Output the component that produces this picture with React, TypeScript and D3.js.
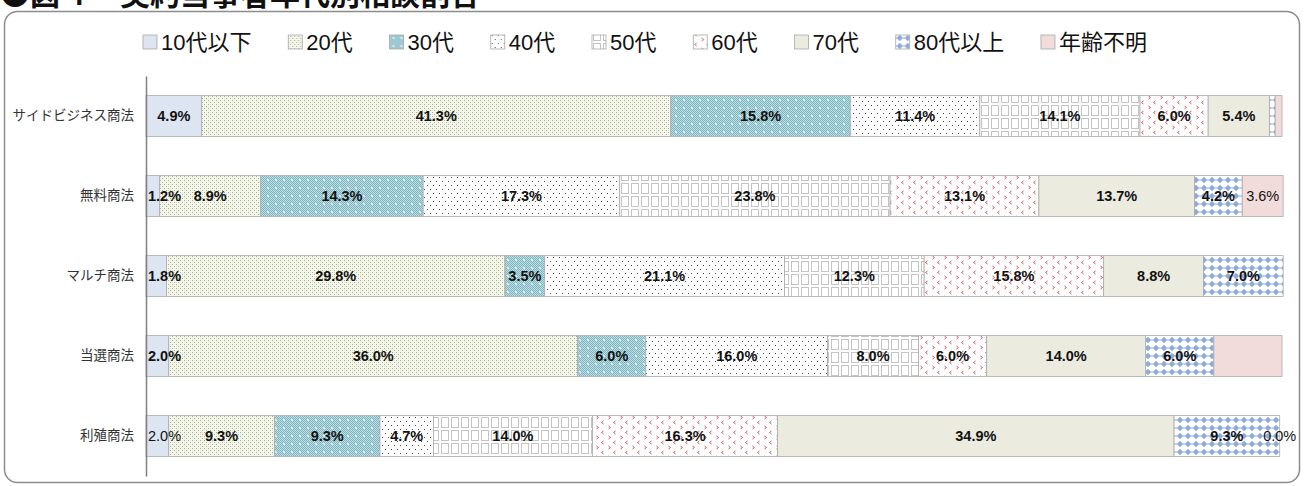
import React, { useEffect, useRef } from "react";
import * as d3 from "d3";

const categories = ["サイドビジネス商法", "無料商法", "マルチ商法", "当選商法", "利殖商法"];
const seriesNames = ["10代以下", "20代", "30代", "40代", "50代", "60代", "70代", "80代以上", "年齢不明"];

const age10 = [4.9, 1.2, 1.8, 2.0, 2.0];
const age20 = [41.3, 8.9, 29.8, 36.0, 9.3];
const age30 = [15.8, 14.3, 3.5, 6.0, 9.3];
const age40 = [11.4, 17.3, 21.1, 16.0, 4.7];
const age50 = [14.1, 23.8, 12.3, 8.0, 14.0];
const age60 = [6.0, 13.1, 15.8, 6.0, 16.3];
const age70 = [5.4, 13.7, 8.8, 14.0, 34.9];
const age80 = [0.5, 4.2, 7.0, 6.0, 9.3];
const ageUnknown = [0.6, 3.6, 0.0, 6.0, 0.0];
const seriesValues = [age10, age20, age30, age40, age50, age60, age70, age80, ageUnknown];

// [row, series] pairs
const hiddenLabels = [[0, 7], [0, 8], [2, 8], [3, 8]];
const plainLabels = [[1, 8], [4, 0], [4, 8]];

const titleText = "●図４　契約当事者年代別相談割合";

const W = 1304;
const H = 486;
const NUM_FONT = "'Liberation Sans', Arial, sans-serif";
const CJK_FONT = "'Liberation Sans', 'Noto Sans CJK JP', sans-serif";

function has(list: number[][], i: number, j: number) {
  return list.some((p) => p[0] === i && p[1] === j);
}

export default function App() {
  const ref = useRef<SVGSVGElement>(null);

  useEffect(() => {
    const svg = d3.select(ref.current);
    svg.selectAll("*").remove();
    const defs = svg.append("defs");

    const pat = (id: string, w: number, h: number, bg: string, draw: (g: any) => void) => {
      const p = defs
        .append("pattern")
        .attr("id", id)
        .attr("patternUnits", "userSpaceOnUse")
        .attr("width", w)
        .attr("height", h);
      p.append("rect").attr("width", w).attr("height", h).attr("fill", bg);
      draw(p);
    };
    const dot = (g: any, x: number, y: number, c: string, s = 1) =>
      g.append("rect").attr("x", x).attr("y", y).attr("width", s).attr("height", s).attr("fill", c);

    // 10代以下
    pat("p0", 4, 4, "#dce5f1", () => {});
    // 20代
    pat("p1", 4, 4, "#f7f8ef", (g) => {
      dot(g, 0, 0, "#a3b285");
      dot(g, 2, 2, "#a3b285");
      dot(g, 2, 0, "#e3e8d2");
      dot(g, 0, 2, "#e3e8d2");
    });
    // 30代
    pat("p2", 8, 8, "#c0dfe5", (g) => {
      for (let x = 0; x < 8; x++)
        for (let y = 0; y < 8; y++) if ((x + y) % 2 === 0) dot(g, x, y, "#7db3bf");
      dot(g, 3, 3, "#d2ebef", 2);
    });
    // 40代
    pat("p3", 6, 8, "#ffffff", (g) => {
      dot(g, 1, 1, "#555");
      dot(g, 4, 5, "#555");
    });
    // 50代
    pat("p4", 10, 13, "#ffffff", (g) => {
      g.append("rect")
        .attr("x", 1.5)
        .attr("y", 1.5)
        .attr("width", 7)
        .attr("height", 10)
        .attr("fill", "none")
        .attr("stroke", "#8a8a8a")
        .attr("stroke-width", 1)
        .attr("stroke-dasharray", "1,1");
    });
    // 60代
    pat("p5", 12, 10, "#ffffff", (g) => {
      g.append("path")
        .attr("d", "M3.5,1 L1.5,2.5 L3.5,4")
        .attr("fill", "none")
        .attr("stroke", "#cc5a5a")
        .attr("stroke-width", 1);
      g.append("path")
        .attr("d", "M8.5,6 L10.5,7.5 L8.5,9")
        .attr("fill", "none")
        .attr("stroke", "#cc5a5a")
        .attr("stroke-width", 1);
    });
    // 70代
    pat("p6", 4, 4, "#ebecdf", () => {});
    // 80代以上
    pat("p7", 8, 8, "#ffffff", (g) => {
      g.append("path").attr("d", "M4,0.8 L7.2,4 L4,7.2 L0.8,4 Z").attr("fill", "#8eaadb");
      dot(g, 0, 3.5, "#8eaadb", 1);
      dot(g, 7, 3.5, "#8eaadb", 1);
    });
    // 年齢不明
    pat("p8", 4, 4, "#f2dcdb", () => {});

    svg.append("rect").attr("width", W).attr("height", H).attr("fill", "#ffffff");

    // Title (cut off at top, as in the reference)
    svg
      .append("text")
      .attr("x", 0)
      .attr("y", 5)
      .attr("font-family", "'Noto Sans CJK JP', sans-serif")
      .attr("font-size", 30)
      .attr("font-weight", "bold")
      .attr("fill", "#111")
      .text(titleText);

    // outer frame
    svg
      .append("rect")
      .attr("x", 4.5)
      .attr("y", 11.5)
      .attr("width", 1295)
      .attr("height", 471)
      .attr("rx", 13)
      .attr("fill", "none")
      .attr("stroke", "#8c8c8c")
      .attr("stroke-width", 1.5);

    // Legend
    const legend = svg.append("g");
    const items: any[] = [];
    seriesNames.forEach((name, j) => {
      const g = legend.append("g");
      g.append("rect")
        .attr("x", 0)
        .attr("y", -7)
        .attr("width", 14)
        .attr("height", 14)
        .attr("fill", `url(#p${j})`)
        .attr("stroke", "#a8a8a8")
        .attr("stroke-width", 0.8);
      const t = g
        .append("text")
        .attr("x", 18)
        .attr("y", 0)
        .attr("dy", "0.36em")
        .attr("font-family", CJK_FONT)
        .attr("font-size", 22)
        .attr("fill", "#111")
        .text(name);
      const w = 18 + (t.node() as SVGTextElement).getComputedTextLength();
      items.push({ g, w });
    });
    const legendLeft = 143;
    const legendRight = 1147;
    const sumW = items.reduce((s, it) => s + it.w, 0);
    const gap = (legendRight - legendLeft - sumW) / (items.length - 1);
    let lx = legendLeft;
    items.forEach((it) => {
      it.g.attr("transform", `translate(${lx},42)`);
      lx += it.w + gap;
    });

    // Scales
    const x = d3.scaleLinear().domain([0, 100]).range([146, 1282]);
    const y = d3
      .scaleBand<string>()
      .domain(categories)
      .range([76, 476])
      .paddingInner(0.49)
      .paddingOuter(0.245);

    const rows = categories.map((c, i) => {
      const o: any = { cat: c };
      seriesNames.forEach((s, j) => (o[s] = seriesValues[j][i]));
      return o;
    });
    const stacked = d3.stack<any>().keys(seriesNames)(rows);

    const bars = svg.append("g");
    stacked.forEach((layer, j) => {
      layer.forEach((d: any, i: number) => {
        const x0 = x(d[0]);
        const x1 = x(d[1]);
        if (x1 - x0 <= 0) return;
        bars
          .append("rect")
          .attr("x", x0)
          .attr("y", y(categories[i])!)
          .attr("width", x1 - x0)
          .attr("height", y.bandwidth())
          .attr("fill", `url(#p${j})`)
          .attr("stroke", "#ababab")
          .attr("stroke-width", 0.8);
      });
    });

    // Labels
    const labels = svg.append("g");
    stacked.forEach((layer, j) => {
      layer.forEach((d: any, i: number) => {
        if (has(hiddenLabels, i, j)) return;
        const x0 = x(d[0]);
        const x1 = x(d[1]);
        const plain = has(plainLabels, i, j);
        const t = labels
          .append("text")
          .attr("y", y(categories[i])! + y.bandwidth() / 2)
          .attr("dy", "0.36em")
          .attr("font-family", NUM_FONT)
          .attr("font-size", plain ? 14.5 : 14.5)
          .attr("font-weight", plain ? "normal" : "bold")
          .attr("fill", "#111")
          .text(seriesValues[j][i].toFixed(1) + "%");
        const tw = (t.node() as SVGTextElement).getComputedTextLength();
        let sx = (x0 + x1) / 2 - tw / 2;
        if (sx < x(0) + 1) sx = x0 + 2;
        t.attr("x", sx);
      });
    });

    // Category axis
    const axis = svg
      .append("g")
      .attr("transform", `translate(${x(0)},0)`)
      .call(d3.axisLeft(y).tickSize(0).tickPadding(12));
    axis.select(".domain").attr("stroke", "#808080").attr("stroke-width", 1.5);
    axis
      .selectAll("text")
      .attr("font-family", "'Noto Sans CJK JP', sans-serif")
      .attr("font-size", 13.5)
      .attr("fill", "#333");
  }, []);

  return (
    <svg
      ref={ref}
      width={W}
      height={H}
      style={{ position: "absolute", left: 0, top: 0, display: "block" }}
    />
  );
}
